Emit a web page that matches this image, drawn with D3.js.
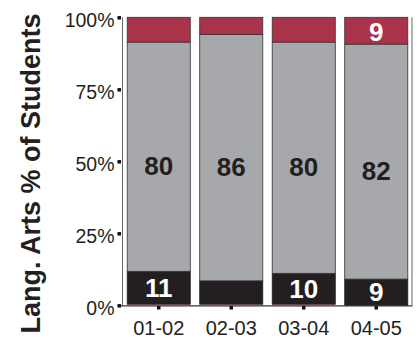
<!DOCTYPE html>
<html><head><meta charset="utf-8">
<script src="https://cdn.jsdelivr.net/npm/d3@7"></script>
<style>
html,body{margin:0;padding:0;background:#fff;}
text{font-family:"Liberation Sans",Arial,sans-serif;}
</style></head>
<body><svg id="c" width="418" height="343"></svg>
<script>
const years = ["01-02","02-03","03-04","04-05"];
const bottomThin = [0.4, 0.4, 0.4, 0];
const blackVals = [11.4, 8.1, 10.7, 9.1];
const grayVals = [79.6, 85.5, 80.3, 81.6];
const redVals = [8.6, 6.0, 8.6, 9.3];
const blackLabels = ["11", "", "10", "9"];
const grayLabels = ["80", "86", "80", "82"];
const redLabels = ["", "", "", "9"];
const yTicks = [0, 25, 50, 75, 100];

const svg = d3.select("#c");
const x = d3.scaleBand().domain(years).range([122.5, 412.5]).paddingInner(0.13).paddingOuter(0.065);
const y = d3.scaleLinear().domain([0, 100]).range([305.3, 17.3]);

const series = [
  {vals: bottomThin, fill: "#c27f78", stroke: "none", labels: null},
  {vals: blackVals, fill: "#231f20", stroke: "#231f20", labels: blackLabels, tc: "#fff"},
  {vals: grayVals, fill: "#a7a8ab", stroke: "#333", labels: grayLabels, tc: "#231f20", dy: 9},
  {vals: redVals, fill: "#a9334a", stroke: "#333", labels: redLabels, tc: "#fff", dy: 1}
];

const bars = years.map((yr, i) => {
  let acc = 0;
  return series.map(s => { const seg = {yr, y0: acc, y1: acc + s.vals[i], s, i}; acc += s.vals[i]; return seg; });
}).flat();

svg.append("g").selectAll("rect").data(bars).join("rect")
  .attr("x", d => x(d.yr))
  .attr("width", x.bandwidth())
  .attr("y", d => y(d.y1))
  .attr("height", d => y(d.y0) - y(d.y1))
  .attr("fill", d => d.s.fill)
  .attr("stroke", d => d.s.stroke)
  .attr("stroke-width", 0.8);

svg.append("g").selectAll("text").data(bars.filter(d => d.s.labels && d.s.labels[d.i])).join("text")
  .attr("x", d => x(d.yr) + x.bandwidth() / 2)
  .attr("y", d => (y(d.y0) + y(d.y1)) / 2 + (d.s.dy || 0))
  .attr("text-anchor", "middle")
  .attr("dominant-baseline", "central")
  .attr("font-size", 26)
  .attr("font-weight", "bold")
  .attr("fill", d => d.s.tc)
  .text(d => d.s.labels[d.i]);

// frame lines
svg.append("line").attr("x1", 122.5).attr("x2", 122.5).attr("y1", y(100)).attr("y2", y(0)).attr("stroke", "#666").attr("stroke-width", 1);
svg.append("line").attr("x1", 412).attr("x2", 412).attr("y1", y(100)).attr("y2", y(0)).attr("stroke", "#666").attr("stroke-width", 1);
svg.append("line").attr("x1", 121).attr("x2", 412.5).attr("y1", 305.8).attr("y2", 305.8).attr("stroke", "#333").attr("stroke-width", 1.2);

// y axis
const ya = svg.append("g").attr("transform", "translate(121,0)")
  .call(d3.axisLeft(y).tickValues(yTicks).tickFormat(d => d + "%").tickSize(3.5).tickPadding(3));
ya.select(".domain").remove();
ya.selectAll(".tick line").attr("stroke", "#111").attr("stroke-width", 3.5);
ya.selectAll(".tick text").attr("font-size", 19.5).attr("fill", "#231f20").attr("dy", "0.45em")
  .attr("font-family", "Liberation Sans, Arial, sans-serif");

// x axis
const xa = svg.append("g").attr("transform", "translate(0,306)")
  .call(d3.axisBottom(x).tickSize(3.5).tickPadding(11));
xa.select(".domain").remove();
xa.selectAll(".tick line").attr("stroke", "#111").attr("stroke-width", 3.5);
xa.selectAll(".tick text").attr("font-size", 20).attr("fill", "#231f20").attr("font-family", "Liberation Sans, Arial, sans-serif");

svg.append("text")
  .attr("transform", "translate(40,173.5) rotate(-90)")
  .attr("text-anchor", "middle")
  .attr("font-size", 27)
  .attr("font-weight", "bold")
  .attr("fill", "#231f20")
  .text("Lang. Arts % of Students");
</script></body></html>
